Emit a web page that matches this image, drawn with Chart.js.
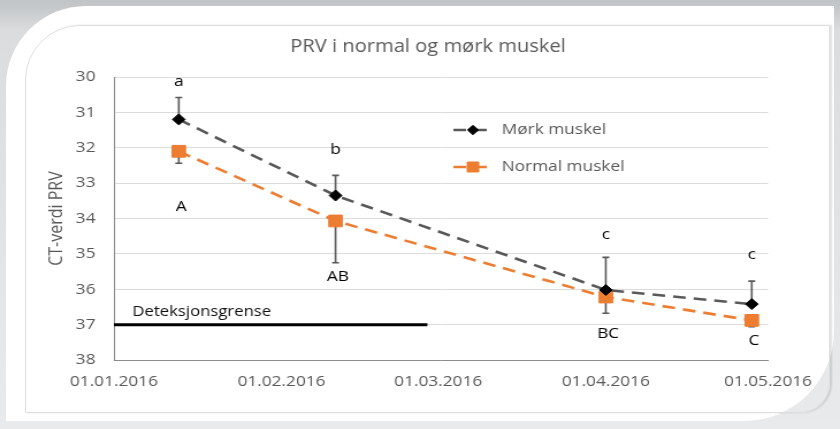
<!DOCTYPE html>
<html>
<head>
<meta charset="utf-8">
<script src="https://cdn.jsdelivr.net/npm/chart.js@4.4.0/dist/chart.umd.min.js"></script>
<style>
  html, body { margin: 0; padding: 0; }
  body {
    width: 840px;
    height: 429px;
    overflow: hidden;
    position: relative;
    background: linear-gradient(to bottom, #c1c4c6 0px, #c4c7c9 6px, #dadcdd 30px, #e9eaeb 100%);
  }
  .panel {
    position: absolute;
    left: 6px;
    top: 6px;
    width: 828px;
    height: 415px;
    background: #fff;
    border-radius: 80px 0 90px 0;
  }
  .frame {
    position: absolute;
    left: 25px;
    top: 25px;
    width: 803px;
    height: 386px;
    border: 1px solid #dedede;
    border-radius: 55px 0 30px 0;
    box-shadow: 2px 0 2px rgba(0, 0, 0, 0.12);
  }
  #chart { position: absolute; left: 0; top: 0; }
</style>
</head>
<body>
<div class="panel"></div>
<div class="frame"></div>
<canvas id="chart" width="730" height="429" style="width:840px;height:429px"></canvas>
<script>
// Excel-style picture is stretched sideways, so the canvas is drawn narrower and scaled up
const chartTitle = "PRV i normal og mørk muskel";
const yTitle = "CT-verdi PRV";
const seriesNames = ["Mørk muskel", "Normal muskel"];
const sampleDates = ["2016-01-13", "2016-02-11", "2016-04-01", "2016-04-28"];
const morkValues = [31.2, 33.35, 36.02, 36.42];
const morkErrors = [0.62, 0.57, 0.92, 0.65]; // drawn towards lower CT
const normalValues = [32.1, 34.07, 36.22, 36.88];
const normalErrors = [0.34, 1.18, 0.46, 0.18]; // drawn towards higher CT
const morkLetters = ["a", "b", "c", "c"];
const morkLetterLevels = [30.14, 32.06, 34.47, 35.03];
const normalLetters = ["A", "AB", "BC", "C"];
const normalLetterLevels = [33.67, 35.65, 37.27, 37.46];
const limitDates = ["2016-01-01", "2016-02-28"];
const limitValue = 37;
const limitLabel = "Deteksjonsgrense";
const tickDates = ["2016-01-01", "2016-02-01", "2016-03-01", "2016-04-01", "2016-05-01"];
const tickLabels = ["01.01.2016", "01.02.2016", "01.03.2016", "01.04.2016", "01.05.2016"];
const yMin = 30;
const yMax = 38;

const START = Date.parse("2016-01-01");
const dayOf = (s) => (Date.parse(s) - START) / 86400000;
const sampleDays = sampleDates.map(dayOf);
const tickDays = tickDates.map(dayOf);

const FONT = "'Open Sans', sans-serif";
const GREY_TEXT = "#595959";
const ORANGE = "#ED7D31";
const DARK_LINE = "#595959";

const annotations = {
  id: "annotations",
  beforeDatasetsDraw(chart) {
    const { ctx, scales: { x, y } } = chart;
    ctx.save();
    ctx.strokeStyle = "#595959";
    ctx.lineWidth = 1.6;
    const bars = [
      [morkValues, morkErrors, -1],
      [normalValues, normalErrors, 1],
    ];
    for (const [vals, errs, dir] of bars) {
      vals.forEach((v, i) => {
        const px = x.getPixelForValue(sampleDays[i]);
        const y0 = y.getPixelForValue(v);
        const y1 = y.getPixelForValue(v + dir * errs[i]);
        ctx.beginPath();
        ctx.moveTo(px, y0);
        ctx.lineTo(px, y1);
        ctx.moveTo(px - 3, y1);
        ctx.lineTo(px + 3, y1);
        ctx.stroke();
      });
    }
    ctx.restore();
  },
  afterDatasetsDraw(chart) {
    const { ctx, chartArea, scales: { x, y } } = chart;
    ctx.save();

    // title
    ctx.fillStyle = GREY_TEXT;
    ctx.font = `17.5px ${FONT}`;
    ctx.textAlign = "center";
    ctx.textBaseline = "alphabetic";
    ctx.fillText(chartTitle, 372, 52);

    // significance letters
    ctx.fillStyle = "#000";
    ctx.font = `15px ${FONT}`;
    ctx.textBaseline = "middle";
    sampleDays.forEach((d, i) => {
      const px = x.getPixelForValue(d);
      ctx.fillText(morkLetters[i], px, y.getPixelForValue(morkLetterLevels[i]));
      ctx.fillText(normalLetters[i], px + 2, y.getPixelForValue(normalLetterLevels[i]));
    });

    // detection limit label
    ctx.textAlign = "left";
    ctx.font = `14.5px ${FONT}`;
    ctx.fillStyle = "#111";
    ctx.fillText(limitLabel, chartArea.left + 16, y.getPixelForValue(limitValue) - 13);

    // legend
    const rows = [130, 167];
    chart.data.datasets.slice(0, 2).forEach((ds, i) => {
      const ly = rows[i];
      ctx.save();
      ctx.strokeStyle = ds.borderColor;
      ctx.lineWidth = ds.borderWidth;
      ctx.setLineDash(ds.borderDash);
      ctx.beginPath();
      ctx.moveTo(394, ly);
      ctx.lineTo(426, ly);
      ctx.stroke();
      ctx.restore();
      ctx.fillStyle = ds.pointBackgroundColor;
      ctx.strokeStyle = ds.pointBorderColor;
      Chart.helpers.drawPoint(ctx, {
        pointStyle: ds.pointStyle,
        radius: ds.pointRadius * 0.85,
        borderWidth: 1,
        rotation: 0,
      }, 411, ly);
      ctx.fillStyle = GREY_TEXT;
      ctx.font = `15px ${FONT}`;
      ctx.textAlign = "left";
      ctx.textBaseline = "middle";
      ctx.fillText(ds.label, 436, ly);
    });

    ctx.restore();
  },
};

new Chart(document.getElementById("chart"), {
  type: "line",
  data: {
    datasets: [
      {
        label: seriesNames[0],
        data: sampleDays.map((d, i) => ({ x: d, y: morkValues[i] })),
        borderColor: DARK_LINE,
        borderWidth: 2.6,
        borderDash: [11, 7],
        pointStyle: "rectRot",
        pointRadius: 5.5,
        pointBackgroundColor: "#000",
        pointBorderColor: "#000",
        pointBorderWidth: 1,
        tension: 0,
      },
      {
        label: seriesNames[1],
        data: sampleDays.map((d, i) => ({ x: d, y: normalValues[i] })),
        borderColor: ORANGE,
        borderWidth: 2.6,
        borderDash: [11, 7],
        pointStyle: "rect",
        pointRadius: 8.3,
        pointBackgroundColor: ORANGE,
        pointBorderColor: ORANGE,
        pointBorderWidth: 1,
        tension: 0,
      },
      {
        label: limitLabel,
        data: limitDates.map((d) => ({ x: dayOf(d), y: limitValue })),
        borderColor: "#000",
        borderWidth: 3,
        pointRadius: 0,
      },
    ],
  },
  options: {
    responsive: false,
    devicePixelRatio: 1,
    animation: false,
    layout: { padding: { left: 0, top: 77, right: 62.6, bottom: 29 } },
    plugins: {
      legend: { display: false },
      title: { display: false },
      tooltip: { enabled: false },
    },
    scales: {
      x: {
        type: "linear",
        min: tickDays[0],
        max: tickDays[tickDays.length - 1],
        afterBuildTicks: (scale) => {
          scale.ticks = tickDays.map((v) => ({ value: v }));
        },
        afterFit: (scale) => { scale.height = 40; },
        grid: { display: false },
        border: { display: true, color: "#8c8c8c", width: 1 },
        ticks: {
          autoSkip: false,
          maxRotation: 0,
          padding: 5,
          color: GREY_TEXT,
          font: { family: FONT, size: 15 },
          callback: (v) => tickLabels[tickDays.indexOf(v)],
        },
      },
      y: {
        reverse: true,
        min: yMin,
        max: yMax,
        afterFit: (scale) => { scale.width = 99; },
        grid: { color: "#dcdcdc", lineWidth: 1, drawTicks: false },
        border: { display: true, color: "#8c8c8c", width: 1 },
        ticks: {
          stepSize: 1,
          padding: 16,
          color: GREY_TEXT,
          font: { family: FONT, size: 15 },
        },
        title: {
          display: true,
          text: yTitle,
          color: GREY_TEXT,
          font: { family: FONT, size: 16 },
          padding: { top: 40, bottom: 0 },
        },
      },
    },
  },
  plugins: [annotations],
});
</script>
</body>
</html>
